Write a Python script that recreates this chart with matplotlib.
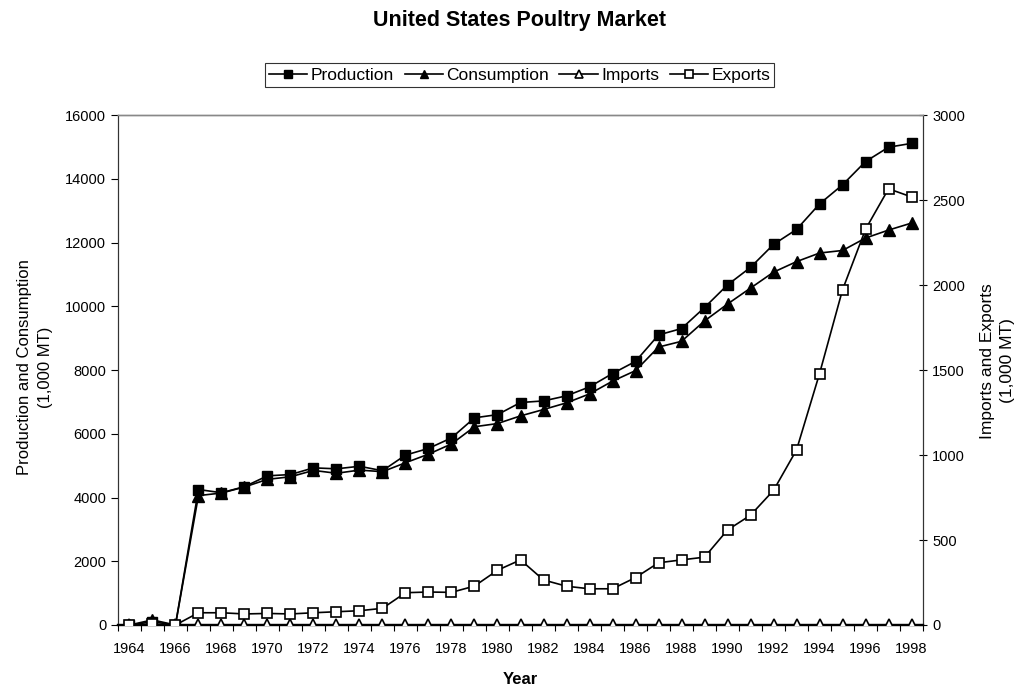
import numpy as np
import matplotlib
matplotlib.use("Agg")
import matplotlib.pyplot as plt

plt.rcParams['font.family'] = ['Liberation Sans', 'DejaVu Sans']

years = list(range(1964, 1999))

# 1,000 MT
production = [0, 100, 0, 4250, 4150, 4340, 4680, 4720, 4930, 4900, 4980, 4840,
              5330, 5540, 5870, 6500, 6600, 6980, 7030, 7190, 7470, 7890,
              8270, 9100, 9300, 9960, 10670, 11220, 11940, 12410, 13210,
              13810, 14540, 14990, 15110]
consumption = [0, 160, 0, 4060, 4140, 4330, 4570, 4650, 4850, 4760, 4860, 4810,
               5090, 5360, 5680, 6220, 6320, 6560, 6760, 6970, 7250, 7650,
               7980, 8720, 8900, 9540, 10070, 10570, 11070, 11400, 11670,
               11750, 12140, 12390, 12610]
imports = [2] * len(years)
exports = [0, 5, 0, 72, 72, 65, 68, 65, 72, 78, 84, 98, 190, 194, 192, 229,
           322, 383, 265, 228, 213, 213, 279, 366, 383, 399, 559, 646, 792,
           1030, 1479, 1972, 2328, 2566, 2518]

x = np.arange(len(years))

fig = plt.figure(figsize=(10.23, 6.97), dpi=100)
ax = fig.add_axes([0.1153, 0.1033, 0.787, 0.7317])
ax2 = ax.twinx()

ms = 7.5
l1, = ax.plot(x, production, color='black', lw=1.2, marker='s', ms=ms,
              mfc='black', mec='black', label='Production', zorder=3)
l2, = ax.plot(x, consumption, color='black', lw=1.2, marker='^', ms=ms + 0.5,
              mfc='black', mec='black', label='Consumption', zorder=3)
l3, = ax2.plot(x, imports, color='black', lw=1.2, marker='^', ms=ms + 0.5,
               mfc='white', mec='black', mew=1.2, label='Imports', zorder=3)
l4, = ax2.plot(x, exports, color='black', lw=1.2, marker='s', ms=ms,
               mfc='white', mec='black', mew=1.2, label='Exports', zorder=3)

ax.set_xlim(-0.5, len(years) - 0.5)
ax.set_ylim(0, 16000)
ax2.set_ylim(0, 3000)
ax.set_yticks(np.arange(0, 16001, 2000))
ax2.set_yticks(np.arange(0, 3001, 500))

ax.set_xticks(x[::2])
ax.set_xticklabels([str(y) for y in years[::2]])
ax.set_xticks(np.arange(-0.5, len(years), 1), minor=True)
ax.tick_params(axis='x', which='major', length=0, pad=12, labelsize=10.5)
ax.tick_params(axis='x', which='minor', length=4, direction='out', width=0.8)
ax.tick_params(axis='y', length=5, direction='out', labelsize=10.5, width=0.8)
ax2.tick_params(axis='y', length=6, direction='inout', labelsize=10.5,
                width=0.8)

for a in (ax, ax2):
    a.spines['top'].set_color('#888888')
    a.spines['top'].set_linewidth(1.0)
    a.spines['left'].set_color('#333333')
    a.spines['right'].set_color('#333333')
    a.spines['bottom'].set_linewidth(1.6)

ax.set_xlabel('Year', fontsize=12, fontweight='bold', labelpad=12)
ax.set_ylabel('Production and Consumption\n(1,000 MT)', fontsize=12,
              linespacing=1.45)
ax.yaxis.set_label_coords(-0.081, 0.505)
ax2.set_ylabel('Imports and Exports\n(1,000 MT)', fontsize=12.5,
               linespacing=1.45)
ax2.yaxis.set_label_coords(1.0708, 0.518)

fig.suptitle('United States Poultry Market', fontsize=15.5, fontweight='bold',
             x=0.508, y=0.985)

leg = fig.legend(handles=[l1, l2, l3, l4], loc='center',
                 bbox_to_anchor=(0.508, 0.892), ncol=4, fontsize=12.5,
                 frameon=True, fancybox=False, edgecolor='black',
                 handlelength=2.2, handletextpad=0.2, columnspacing=0.6,
                 borderpad=0.25, markerscale=0.8)
leg.get_frame().set_linewidth(0.8)

fig.savefig('out.png', dpi=100)
